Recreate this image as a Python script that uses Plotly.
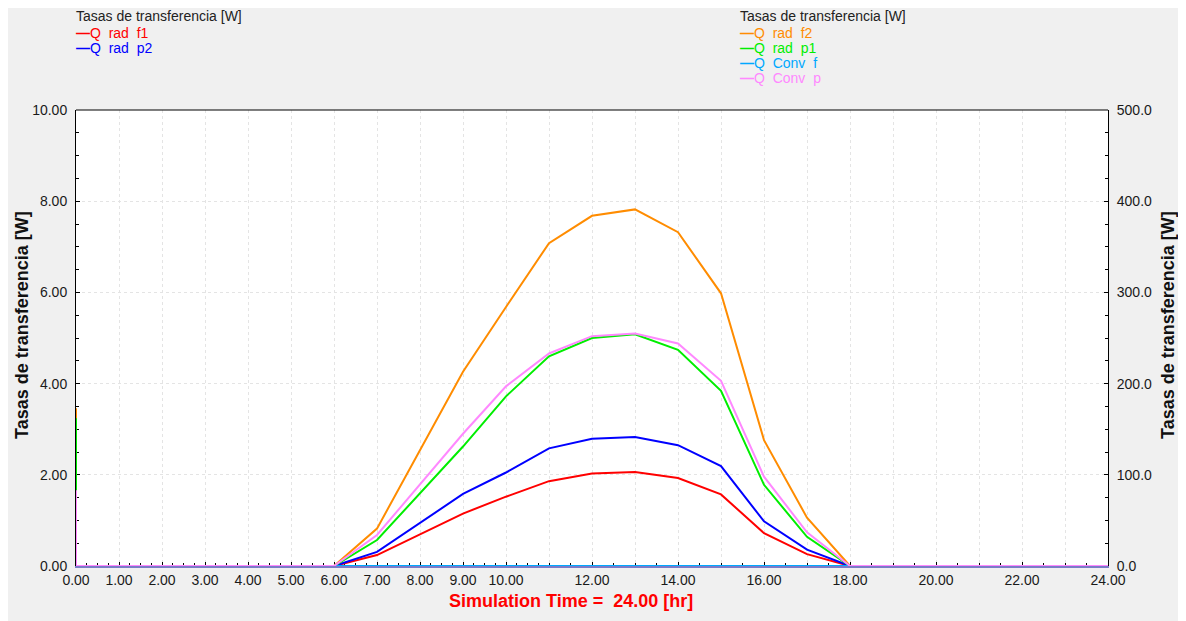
import plotly.graph_objects as go

# ---------------- data ----------------
time_hr = [0.0, 0.0, 1.0, 2.0, 3.0, 4.0, 5.0, 6.0, 7.0, 8.0, 9.0, 10.0, 11.0, 12.0,
           13.0, 14.0, 15.0, 16.0, 17.0, 18.0, 19.0, 20.0, 21.0, 22.0, 23.0, 24.0]

# left axis series [W]
q_rad_f1 = [0, 0, 0, 0, 0, 0, 0, 0, 0.24, 0.69, 1.15, 1.52, 1.86, 2.03,
            2.06, 1.93, 1.57, 0.72, 0.26, 0, 0, 0, 0, 0, 0, 0]
q_rad_p2 = [0, 0, 0, 0, 0, 0, 0, 0, 0.31, 0.94, 1.58, 2.05, 2.58, 2.79,
            2.83, 2.65, 2.19, 0.98, 0.36, 0, 0, 0, 0, 0, 0, 0]

# right axis series [W]
q_rad_f2 = [173, 0, 0, 0, 0, 0, 0, 0, 41, 127, 213, 284, 354, 384,
            391, 366, 299, 138, 53, 0, 0, 0, 0, 0, 0, 0]
q_rad_p1 = [162, 0, 0, 0, 0, 0, 0, 0, 28.5, 80, 131, 186, 230, 250,
            254, 237, 192, 89, 32, 0, 0, 0, 0, 0, 0, 0]
q_conv_f = [0, 0, 0, 0, 0, 0, 0, 0, 0, 0, 0, 0, 0, 0,
            0, 0, 0, 0, 0, 0, 0, 0, 0, 0, 0, 0]
q_conv_p = [83, 0, 0, 0, 0, 0, 0, 0, 34, 89, 145, 197, 233, 252,
            255, 244, 203, 98, 37, 0, 0, 0, 0, 0, 0, 0]

left_names = ["Q  rad  f1", "Q  rad  p2"]
left_colors = ["#ff0000", "#0000ff"]
left_values = [q_rad_f1, q_rad_p2]

right_names = ["Q  rad  f2", "Q  rad  p1", "Q  Conv  f", "Q  Conv  p"]
right_colors = ["#ff8c00", "#00ee00", "#00a8ff", "#ff88ff"]
right_values = [q_rad_f2, q_rad_p1, q_conv_f, q_conv_p]

legend_title = "Tasas de transferencia [W]"
y_title = "Tasas de transferencia [W]"
x_title = "Simulation Time =  24.00 [hr]"

x_tickvals = list(range(0, 25))
x_ticktext = [f"{v:.2f}" if (v <= 10 or v % 2 == 0) else "" for v in x_tickvals]
x_minor = [i * 0.25 for i in range(0, 45)] + [11 + i * 0.5 for i in range(0, 27)]
yl_tickvals = [0, 2, 4, 6, 8, 10]
yr_tickvals = [0, 100, 200, 300, 400, 500]

# ---------------- figure ----------------
OFF = 8                      # page body margin
W, H = 1178, 613
L, R, T, B = 68, 78, 102, 55
pw, ph = W - L - R, H - T - B


def px_x(p):                 # page pixel -> paper coordinate
    return (p - OFF - L) / pw


def px_y(p):
    return (H - B - (p - OFF)) / ph


FONT = "Arial, Liberation Sans, sans-serif"
fig = go.Figure()

for name, col, vals in zip(left_names, left_colors, left_values):
    fig.add_trace(go.Scatter(x=time_hr, y=vals, mode="lines", name=name,
                             line=dict(color=col, width=2), yaxis="y",
                             showlegend=False))
for name, col, vals in zip(right_names, right_colors, right_values):
    fig.add_trace(go.Scatter(x=time_hr, y=vals, mode="lines", name=name,
                             line=dict(color=col, width=2), yaxis="y2",
                             showlegend=False))

grid_col = "#e4e4e4"
tick_font = dict(family=FONT, size=14, color="#1a1a1a")

fig.update_layout(
    width=W, height=H, autosize=False,
    margin=dict(l=L, r=R, t=T, b=B, pad=0),
    paper_bgcolor="#f0f0f0", plot_bgcolor="#ffffff",
    font=dict(family=FONT, size=14, color="#1a1a1a"),
    xaxis=dict(range=[0, 24], tickmode="array", tickvals=x_tickvals,
               ticktext=x_ticktext, tickfont=tick_font,
               showgrid=True, gridcolor=grid_col, griddash="3px,3px", gridwidth=1,
               ticks="inside", ticklen=4, tickcolor="#000",
               showline=True, linecolor="#7b7bc8", linewidth=2,
               zeroline=False, layer="below traces",
               minor=dict(tickmode="array", tickvals=x_minor, ticks="inside",
                          ticklen=3, tickcolor="#000", showgrid=False)),
    yaxis=dict(range=[0, 10], tickmode="array", tickvals=yl_tickvals,
               tickformat=".2f", tickfont=tick_font, ticklabelstandoff=5,
               showgrid=True, gridcolor=grid_col, griddash="3px,3px", gridwidth=1,
               ticks="inside", ticklen=4, tickcolor="#000",
               showline=True, linecolor="#000", linewidth=1,
               zeroline=False, layer="below traces",
               minor=dict(dtick=0.5, ticks="inside", ticklen=3,
                          tickcolor="#000", showgrid=False)),
    yaxis2=dict(range=[0, 500], overlaying="y", side="right",
                tickmode="array", tickvals=yr_tickvals, tickformat=".1f",
                tickfont=tick_font, ticklabelstandoff=5,
                showgrid=False, ticks="inside", ticklen=4, tickcolor="#000",
                showline=True, linecolor="#000", linewidth=1, zeroline=False,
                minor=dict(dtick=25, ticks="inside", ticklen=3, tickcolor="#000")),
    showlegend=False,
)

# top border of plot frame
fig.add_shape(type="line", xref="paper", yref="paper", x0=0, x1=1, y0=1, y1=1,
              line=dict(color="#000", width=1))

anns = []
# axis titles
for xp in (22, 1168):
    anns.append(dict(text=f"<b>{y_title}</b>", x=px_x(xp), y=px_y(325),
                     xref="paper", yref="paper", xanchor="center",
                     yanchor="middle", textangle=-90, showarrow=False,
                     font=dict(family=FONT, size=18, color="#111")))
anns.append(dict(text="<b>" + x_title.replace("  ", "\u00a0\u00a0") + "</b>",
                 x=px_x(571), y=px_y(601), xref="paper", yref="paper",
                 xanchor="center", yanchor="middle",
                 showarrow=False, font=dict(family=FONT, size=18, color="#ff0000")))


# legends as text
def legend_block(x_px, y0_px, names, colors):
    anns.append(dict(text=legend_title, x=px_x(x_px), y=px_y(y0_px), xref="paper",
                     yref="paper", xanchor="left", yanchor="middle", showarrow=False,
                     font=dict(family=FONT, size=14, color="#222")))
    for i, (n, c) in enumerate(zip(names, colors)):
        anns.append(dict(text="<b>\u2014</b>" + n.replace("  ", "\u00a0\u00a0"),
                         x=px_x(x_px), y=px_y(y0_px + 16.5 + 15.3 * i),
                         xref="paper", yref="paper", xanchor="left",
                         yanchor="middle", showarrow=False,
                         font=dict(family=FONT, size=14, color=c)))


legend_block(74, 16, left_names, left_colors)
legend_block(738, 16, right_names, right_colors)

fig.update_layout(annotations=anns)
fig.write_html("out.html")
